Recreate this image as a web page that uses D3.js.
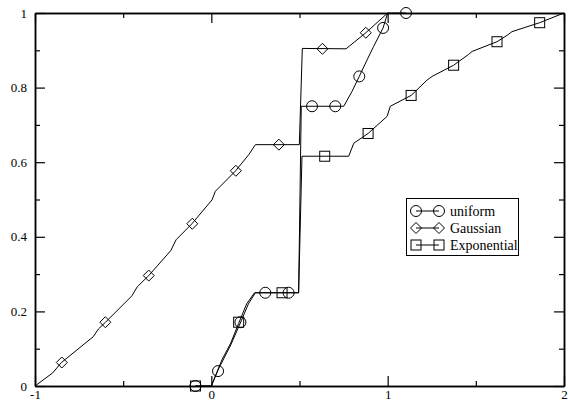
<!DOCTYPE html>
<html>
<head>
<meta charset="utf-8">
<script src="https://cdn.jsdelivr.net/npm/d3@7"></script>
<style>
  html, body { margin: 0; padding: 0; background: #fff; }
  svg { display: block; }
  text { font-family: "Liberation Serif", "Times New Roman", serif; fill: #000; }
</style>
</head>
<body>
<svg id="chart" width="568" height="402"></svg>
<script>
// ---- data ----
const xMajorTicks = [-1, 0, 1, 2];
const xMinorTicks = [-0.5, 0.5, 1.5];
const yMajorTicks = [0, 0.2, 0.4, 0.6, 0.8, 1];
const yMinorTicks = [0.1, 0.3, 0.5, 0.7, 0.9];

const seriesNames = ["uniform", "Gaussian", "Exponential"];
const seriesSymbols = ["circle", "diamond", "square"];

const uniformLineX = [-0.09, 0, 0.04, 0.11, 0.17, 0.21, 0.25, 0.495, 0.51, 0.751, 0.798, 0.839, 0.883, 0.92, 0.974, 1.0, 1.104];
const uniformLineY = [0, 0, 0.045, 0.11, 0.175, 0.22, 0.25, 0.25, 0.75, 0.75, 0.79, 0.83, 0.874, 0.91, 0.96, 1.0, 1.0];
const uniformMarkX = [-0.09, 0.038, 0.165, 0.306, 0.438, 0.571, 0.703, 0.839, 0.974, 1.104];
const uniformMarkY = [0, 0.040, 0.171, 0.25, 0.25, 0.75, 0.75, 0.83, 0.96, 1.0];

const gaussLineX = [-1, -0.90, -0.85, -0.67, -0.64, -0.60, -0.45, -0.42, -0.355, -0.23, -0.20, -0.11, 0.004, 0.023, 0.138, 0.212, 0.25, 0.499, 0.516, 0.764, 0.876, 1.0];
const gaussLineY = [0, 0.035, 0.063, 0.132, 0.153, 0.171, 0.242, 0.266, 0.296, 0.363, 0.392, 0.435, 0.499, 0.522, 0.577, 0.620, 0.647, 0.647, 0.905, 0.904, 0.947, 1.0];
const gaussMarkX = [-0.848, -0.601, -0.355, -0.108, 0.139, 0.383, 0.630, 0.876];
const gaussMarkY = [0.063, 0.171, 0.296, 0.435, 0.577, 0.647, 0.904, 0.947];

const expLineX = [-0.09, 0, 0.06, 0.11, 0.155, 0.2, 0.245, 0.495, 0.514, 0.779, 0.808, 0.889, 0.997, 1.015, 1.133, 1.223, 1.252, 1.374, 1.459, 1.479, 1.62, 1.677, 1.705, 1.862, 2.0];
const expLineY = [0, 0, 0.07, 0.115, 0.168, 0.22, 0.25, 0.25, 0.616, 0.616, 0.651, 0.677, 0.723, 0.75, 0.779, 0.82, 0.83, 0.86, 0.889, 0.897, 0.923, 0.94, 0.95, 0.974, 1.0];
const expMarkX = [-0.09, 0.155, 0.401, 0.643, 0.889, 1.133, 1.374, 1.62, 1.862];
const expMarkY = [0, 0.171, 0.25, 0.616, 0.677, 0.779, 0.86, 0.923, 0.974];

// ---- layout ----
const svg = d3.select("#chart");
const L = 35, R = 564, T = 13, B = 386;
const x = d3.scaleLinear().domain([-1, 2]).range([L, R]);
const y = d3.scaleLinear().domain([0, 1]).range([B, T]);

const zip = (a, b) => a.map((v, i) => [v, b[i]]);
const series = [
  { line: zip(uniformLineX, uniformLineY), marks: zip(uniformMarkX, uniformMarkY), sym: seriesSymbols[0] },
  { line: zip(gaussLineX, gaussLineY), marks: zip(gaussMarkX, gaussMarkY), sym: seriesSymbols[1] },
  { line: zip(expLineX, expLineY), marks: zip(expMarkX, expMarkY), sym: seriesSymbols[2] }
];

function drawSymbol(g, sym, cx, cy) {
  if (sym === "circle") {
    g.append("circle").attr("cx", cx).attr("cy", cy).attr("r", 5.5)
      .attr("fill", "none").attr("stroke", "#000").attr("stroke-width", 1);
  } else if (sym === "square") {
    g.append("rect").attr("x", cx - 5).attr("y", cy - 5).attr("width", 10).attr("height", 10)
      .attr("fill", "none").attr("stroke", "#000").attr("stroke-width", 1);
  } else {
    const s = 5.5;
    g.append("path").attr("d", `M${cx},${cy - s}L${cx + s},${cy}L${cx},${cy + s}L${cx - s},${cy}Z`)
      .attr("fill", "none").attr("stroke", "#000").attr("stroke-width", 1);
  }
}

// ---- curves ----
const lineGen = d3.line().x(d => x(d[0])).y(d => y(d[1]));
const plot = svg.append("g");
series.forEach(s => {
  plot.append("path").attr("d", lineGen(s.line))
    .attr("fill", "none").attr("stroke", "#000").attr("stroke-width", 1);
  s.marks.forEach(m => drawSymbol(plot, s.sym, x(m[0]), y(m[1])));
});

// ---- axes ----
function styleAxis(g) {
  g.selectAll("path.domain").attr("stroke", "#000").attr("stroke-width", 1.5);
  g.selectAll(".tick line").attr("stroke", "#000").attr("stroke-width", 1.2);
  g.selectAll("text").attr("font-size", 13).attr("font-family", "Liberation Serif, serif").attr("fill", "#000");
}
const fmt = d => String(d);
svg.append("g").attr("transform", `translate(0,${B})`)
  .call(d3.axisBottom(x).tickValues(xMajorTicks).tickFormat(fmt).tickSizeInner(-10).tickSizeOuter(0).tickPadding(4))
  .call(styleAxis);
svg.append("g").attr("transform", `translate(0,${B})`)
  .call(d3.axisBottom(x).tickValues(xMinorTicks).tickFormat("").tickSizeInner(-5).tickSizeOuter(0))
  .call(styleAxis);
svg.append("g").attr("transform", `translate(0,${T})`)
  .call(d3.axisTop(x).tickValues(xMajorTicks).tickFormat("").tickSizeInner(-10).tickSizeOuter(0))
  .call(styleAxis);
svg.append("g").attr("transform", `translate(0,${T})`)
  .call(d3.axisTop(x).tickValues(xMinorTicks).tickFormat("").tickSizeInner(-5).tickSizeOuter(0))
  .call(styleAxis);
svg.append("g").attr("transform", `translate(${L},0)`)
  .call(d3.axisLeft(y).tickValues(yMajorTicks).tickFormat(fmt).tickSizeInner(-10).tickSizeOuter(0).tickPadding(8))
  .call(styleAxis);
svg.append("g").attr("transform", `translate(${L},0)`)
  .call(d3.axisLeft(y).tickValues(yMinorTicks).tickFormat("").tickSizeInner(-5).tickSizeOuter(0))
  .call(styleAxis);
svg.append("g").attr("transform", `translate(${R},0)`)
  .call(d3.axisRight(y).tickValues(yMajorTicks).tickFormat("").tickSizeInner(-10).tickSizeOuter(0))
  .call(styleAxis);
svg.append("g").attr("transform", `translate(${R},0)`)
  .call(d3.axisRight(y).tickValues(yMinorTicks).tickFormat("").tickSizeInner(-5).tickSizeOuter(0))
  .call(styleAxis);

// ---- legend ----
const lg = svg.append("g");
lg.append("rect").attr("x", 406.5).attr("y", 198.5).attr("width", 112).attr("height", 57)
  .attr("fill", "#fff").attr("stroke", "#000").attr("stroke-width", 1);
const rowY = [211, 228, 245];
seriesNames.forEach((name, i) => {
  const cy = rowY[i];
  lg.append("line").attr("x1", 416).attr("x2", 439).attr("y1", cy).attr("y2", cy)
    .attr("stroke", "#000").attr("stroke-width", 1);
  drawSymbol(lg, seriesSymbols[i], 416, cy);
  drawSymbol(lg, seriesSymbols[i], 439, cy);
  lg.append("text").attr("x", 450).attr("y", cy).attr("dy", "0.33em")
    .attr("font-size", 14).text(name);
});
</script>
</body>
</html>
